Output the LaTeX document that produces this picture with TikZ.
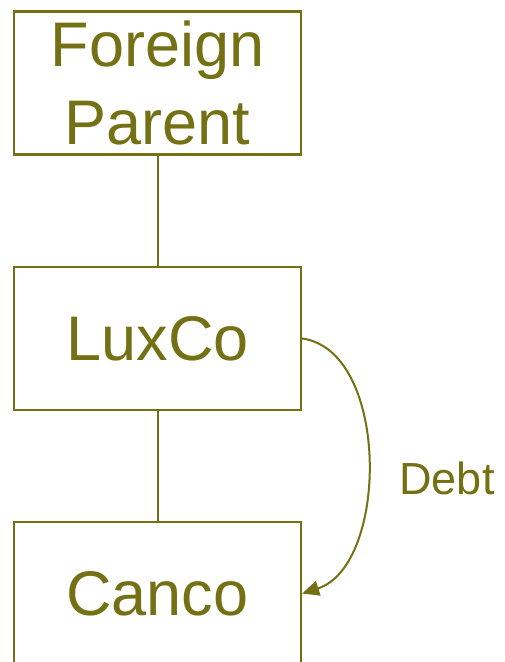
\documentclass[tikz,border=0pt]{standalone}
\usepackage{fontspec}
\setmainfont{Liberation Sans}
\usetikzlibrary{arrows.meta}
\definecolor{olivetxt}{RGB}{116,112,20}
\tikzset{
  entity/.style={draw=olivetxt, line width=2.2pt, minimum width=287pt, minimum height=143pt,
    inner sep=0pt, align=center, text=olivetxt, font=\fontsize{63}{78}\selectfont},
  link/.style={draw=olivetxt, line width=2pt},
  lbl/.style={text=olivetxt, font=\fontsize{45}{52}\selectfont, inner sep=0pt}
}
\begin{document}
\begin{tikzpicture}[x=1pt,y=-1pt]
\useasboundingbox (0,0) rectangle (504,662);
\fill[white] (0,0) rectangle (504,662);
\node[entity] (fp) at (157.5,83) {Foreign\\Parent};
\node[entity] (lux) at (157.5,338.5) {LuxCo};
\node[entity] (can) at (157.5,593.5) {Canco};
\draw[link] (fp.south) -- (lux.north);
\draw[link] (lux.south) -- (can.north);
\draw[link, -{Triangle[length=17pt,width=15pt]}] (lux.east) .. controls +(88,12) and +(87,-28) .. (can.east);
\node[lbl] (debt) at (447,478) {Debt};
\end{tikzpicture}
\end{document}
